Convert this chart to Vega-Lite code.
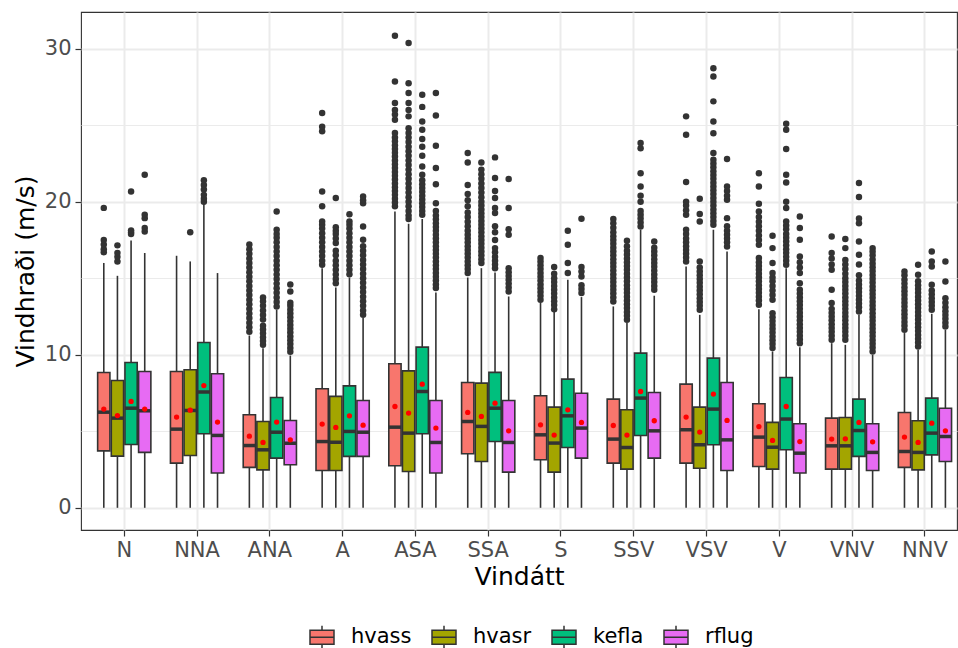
{
  "$schema": "https://vega.github.io/schema/vega-lite/v6.json",
  "width": 876,
  "height": 518,
  "autosize": {"type": "none"},
  "padding": {"left": 81, "top": 12, "right": 1, "bottom": 118},
  "background": "white",
  "config": {
    "font": "DejaVu Sans",
    "view": {"stroke": "#333333", "strokeWidth": 1.1},
    "axis": {
      "labelFont": "DejaVu Sans", "titleFont": "DejaVu Sans",
      "labelFontSize": 21, "labelColor": "#4D4D4D",
      "titleFontSize": 25, "titleColor": "#000000", "titleFontWeight": "normal",
      "tickColor": "#333333", "tickSize": 6, "tickWidth": 1.2,
      "domain": false, "grid": true, "gridColor": "#EBEBEB"
    },
    "legend": {"labelFont": "DejaVu Sans"}
  },
  "data": {"values": [
    {"d":"N","s":"hvass","lo":0,"q1":3.72,"med":6.25,"q3":8.84,"hi":16.0,"mean":6.45,"out":[16.7,16.9,17.2,17.5,19.6]},
    {"d":"N","s":"hvasr","lo":0,"q1":3.38,"med":5.86,"q3":8.32,"hi":15.16,"mean":6.03,"out":[16.1,16.4,16.65,17.15]},
    {"d":"N","s":"kefla","lo":0,"q1":4.14,"med":6.51,"q3":9.5,"hi":17.47,"mean":6.95,"out":[17.9,18.0,18.13,20.67]},
    {"d":"N","s":"rflug","lo":0,"q1":3.62,"med":6.34,"q3":8.91,"hi":16.65,"mean":6.45,"out":[18.06,18.28,18.93,19.15,21.76]},
    {"d":"NNA","s":"hvass","lo":0,"q1":2.92,"med":5.14,"q3":8.91,"hi":16.47,"mean":5.93,"out":[]},
    {"d":"NNA","s":"hvasr","lo":0,"q1":3.42,"med":6.36,"q3":9.02,"hi":16.1,"mean":6.38,"out":[18.0]},
    {"d":"NNA","s":"kefla","lo":0,"q1":4.84,"med":7.56,"q3":10.8,"hi":19.9,"mean":7.99,"out":[20.0,20.2,20.45,20.8,21.1,21.4]},
    {"d":"NNA","s":"rflug","lo":0,"q1":2.27,"med":4.73,"q3":8.76,"hi":15.34,"mean":5.6,"out":[]},
    {"d":"ANA","s":"hvass","lo":0,"q1":2.64,"med":4.07,"q3":6.08,"hi":11.26,"mean":4.68,"out":[11.5,11.8,12.1,12.4,12.7,13.0,13.3,13.6,13.9,14.2,14.5,14.8,15.1,15.4,15.7,16.0,16.3,16.6,16.9,17.2]},
    {"d":"ANA","s":"hvasr","lo":0,"q1":2.48,"med":3.79,"q3":5.64,"hi":10.43,"mean":4.27,"out":[10.65,10.9,11.15,11.4,11.65,11.9,12.3,12.6,12.9,13.2,13.5,13.75]},
    {"d":"ANA","s":"kefla","lo":0,"q1":3.25,"med":4.94,"q3":7.21,"hi":12.94,"mean":5.6,"out":[13.16,13.45,13.75,14.05,14.35,14.65,14.95,15.25,15.55,15.85,16.15,16.45,16.75,17.05,17.35,17.65,17.9,18.17,19.37]},
    {"d":"ANA","s":"rflug","lo":0,"q1":2.81,"med":4.22,"q3":5.71,"hi":9.95,"mean":4.44,"out":[10.2,10.45,10.7,10.95,11.2,11.45,11.7,11.95,12.2,12.45,12.7,12.95,13.2,13.4,14.14,14.6]},
    {"d":"A","s":"hvass","lo":0,"q1":2.44,"med":4.33,"q3":7.78,"hi":15.66,"mean":5.47,"out":[15.88,16.15,16.45,16.75,17.05,17.35,17.65,17.95,18.25,18.5,18.71,19.7,20.67,24.6,24.9,25.8]},
    {"d":"A","s":"hvasr","lo":0,"q1":2.44,"med":4.29,"q3":7.28,"hi":14.4,"mean":5.25,"out":[14.68,14.95,15.25,15.55,15.85,16.15,16.5,16.8,17.3,17.6,17.9,18.1,18.34,20.24]},
    {"d":"A","s":"kefla","lo":0,"q1":3.36,"med":4.99,"q3":7.97,"hi":15.05,"mean":6.01,"out":[15.27,15.55,15.85,16.15,16.45,16.75,17.05,17.35,17.65,17.95,18.25,18.5,18.71,19.19]},
    {"d":"A","s":"rflug","lo":0,"q1":3.36,"med":4.94,"q3":7.01,"hi":12.4,"mean":5.4,"out":[12.61,12.9,13.2,13.5,13.8,14.1,14.4,14.7,15.0,15.3,15.6,15.9,16.2,16.5,16.8,17.1,17.52,18.39,19.9,20.1,20.35]},
    {"d":"ASA","s":"hvass","lo":0,"q1":2.75,"med":5.27,"q3":9.41,"hi":19.37,"mean":6.62,"out":[19.7,19.95,20.2,20.45,20.7,20.95,21.2,21.45,21.7,21.95,22.2,22.45,22.7,22.95,23.2,23.45,23.7,23.95,24.2,24.5,25.36,25.7,26.0,26.45,27.86,30.85]},
    {"d":"ASA","s":"hvasr","lo":0,"q1":2.37,"med":4.88,"q3":8.95,"hi":18.56,"mean":6.19,"out":[18.87,19.1,19.4,19.7,20.0,20.3,20.6,20.9,21.2,21.5,21.8,22.1,22.4,22.7,23.0,23.3,23.6,23.9,24.2,24.5,24.8,25.58,26.0,26.45,27.1,27.75,30.37]},
    {"d":"ASA","s":"kefla","lo":0,"q1":4.84,"med":7.6,"q3":10.5,"hi":18.87,"mean":8.08,"out":[19.15,19.4,19.65,19.9,20.15,20.4,20.65,20.9,21.15,21.4,21.76,22.3,23.0,23.6,24.1,24.7,25.25,26.2,27.0]},
    {"d":"ASA","s":"rflug","lo":0,"q1":2.27,"med":4.27,"q3":7.01,"hi":14.07,"mean":5.21,"out":[14.36,14.6,14.85,15.1,15.35,15.6,15.85,16.1,16.35,16.6,16.85,17.1,17.35,17.6,17.85,18.1,18.35,18.6,18.85,19.1,19.4,19.9,21.15,22.2,23.66,25.64,27.1]},
    {"d":"SSA","s":"hvass","lo":0,"q1":3.53,"med":5.64,"q3":8.19,"hi":15.05,"mean":6.23,"out":[15.34,15.6,15.85,16.1,16.35,16.6,16.85,17.1,17.35,17.6,17.85,18.1,18.4,18.7,19.0,19.3,19.7,20.1,20.5,21.1,22.57,23.18]},
    {"d":"SSA","s":"hvasr","lo":0,"q1":3.03,"med":5.32,"q3":8.15,"hi":15.66,"mean":5.97,"out":[16.0,16.25,16.5,16.75,17.0,17.25,17.5,17.75,18.0,18.25,18.5,18.75,19.0,19.25,19.5,19.75,20.0,20.3,20.6,20.9,21.2,21.5,21.8,22.1,22.57]},
    {"d":"SSA","s":"kefla","lo":0,"q1":4.33,"med":6.51,"q3":8.85,"hi":15.38,"mean":6.84,"out":[15.66,15.9,16.15,16.4,16.7,16.97,17.5,18.0,18.4,19.26,19.6,20.24,20.7,21.55,22.9]},
    {"d":"SSA","s":"rflug","lo":0,"q1":2.33,"med":4.27,"q3":7.01,"hi":13.81,"mean":5.03,"out":[14.14,14.4,14.65,14.9,15.15,15.4,15.66,17.84,18.2,19.59,21.48]},
    {"d":"S","s":"hvass","lo":0,"q1":3.14,"med":4.77,"q3":7.32,"hi":13.42,"mean":5.42,"out":[13.6,13.85,14.1,14.35,14.6,14.85,15.1,15.35,15.6,15.85,16.1,16.32]},
    {"d":"S","s":"hvasr","lo":0,"q1":2.33,"med":4.23,"q3":6.58,"hi":12.83,"mean":4.75,"out":[12.98,13.25,13.5,13.75,14.0,14.25,14.5,14.75,15.0,15.3,15.73]},
    {"d":"S","s":"kefla","lo":0,"q1":3.94,"med":6.01,"q3":8.41,"hi":14.9,"mean":6.4,"out":[15.34,16.0,17.19,18.1]},
    {"d":"S","s":"rflug","lo":0,"q1":3.25,"med":5.21,"q3":7.49,"hi":13.77,"mean":5.58,"out":[14.03,14.3,14.55,15.12,15.45,15.73,18.89]},
    {"d":"SSV","s":"hvass","lo":0,"q1":2.92,"med":4.49,"q3":7.1,"hi":13.16,"mean":5.38,"out":[13.48,13.75,14.0,14.25,14.5,14.75,15.0,15.25,15.5,15.75,16.0,16.25,16.5,16.75,17.0,17.25,17.5,17.75,18.0,18.3,18.6,18.87]},
    {"d":"SSV","s":"hvasr","lo":0,"q1":2.53,"med":3.94,"q3":6.41,"hi":12.07,"mean":4.75,"out":[12.29,12.55,12.8,13.05,13.3,13.55,13.8,14.05,14.3,14.55,14.8,15.05,15.3,15.55,15.8,16.05,16.3,16.55,16.8,17.1,17.45]},
    {"d":"SSV","s":"kefla","lo":0,"q1":4.73,"med":7.17,"q3":10.11,"hi":18.17,"mean":7.6,"out":[18.39,18.65,18.9,19.15,19.4,20.0,20.4,21.0,21.87,23.5,23.84]},
    {"d":"SSV","s":"rflug","lo":0,"q1":3.25,"med":5.03,"q3":7.54,"hi":13.86,"mean":5.69,"out":[14.25,14.5,14.75,15.0,15.25,15.5,15.75,16.0,16.25,16.5,16.75,17.0,17.4]},
    {"d":"VSV","s":"hvass","lo":0,"q1":2.92,"med":5.1,"q3":8.08,"hi":15.77,"mean":5.93,"out":[16.1,16.35,16.6,16.85,17.1,17.35,17.6,17.9,18.17,19.15,19.45,19.75,20.0,21.29,24.38,25.58]},
    {"d":"VSV","s":"hvasr","lo":0,"q1":2.59,"med":4.12,"q3":6.58,"hi":12.61,"mean":4.95,"out":[12.94,13.2,13.45,13.7,13.95,14.2,14.45,14.7,14.95,15.2,15.45,15.7,16.1,18.71,19.2,20.2]},
    {"d":"VSV","s":"kefla","lo":0,"q1":4.12,"med":6.45,"q3":9.78,"hi":18.17,"mean":7.43,"out":[18.5,18.75,19.0,19.25,19.5,19.75,20.0,20.25,20.5,20.75,21.0,21.25,21.5,21.75,22.0,22.25,22.5,22.75,23.18,24.48,25.25,26.56,28.19,28.73]},
    {"d":"VSV","s":"rflug","lo":0,"q1":2.44,"med":4.44,"q3":8.19,"hi":16.75,"mean":5.71,"out":[17.08,17.35,17.6,17.85,18.1,18.4,18.93,20.13,20.4,20.7,21.0,22.79]},
    {"d":"V","s":"hvass","lo":0,"q1":2.7,"med":4.62,"q3":6.8,"hi":12.98,"mean":5.31,"out":[13.27,13.55,13.8,14.05,14.3,14.55,14.8,15.05,15.3,15.55,15.8,16.05,16.32,17.19,17.5,17.8,18.1,18.4,18.7,19.0,19.37,19.87,21.0,21.87]},
    {"d":"V","s":"hvasr","lo":0,"q1":2.53,"med":3.96,"q3":5.58,"hi":10.22,"mean":4.4,"out":[10.44,10.7,10.95,11.2,11.45,11.7,11.95,12.2,12.45,12.72,13.6,13.9,14.2,14.5,14.8,15.05,15.34,16.0,16.97,17.78]},
    {"d":"V","s":"kefla","lo":0,"q1":3.79,"med":5.8,"q3":8.52,"hi":15.66,"mean":6.62,"out":[15.88,16.15,16.4,16.65,16.9,17.15,17.4,17.65,17.9,18.2,18.45,18.71,19.59,20.0,21.26,21.76,23.44,24.7,25.1]},
    {"d":"V","s":"rflug","lo":0,"q1":2.27,"med":3.57,"q3":5.49,"hi":10.5,"mean":4.33,"out":[10.76,11.0,11.25,11.5,11.75,12.0,12.25,12.5,12.75,13.0,13.25,13.5,13.75,14.0,14.25,14.68,15.34,15.7,16.05,16.43,17.52,18.28,19.04]},
    {"d":"VNV","s":"hvass","lo":0,"q1":2.53,"med":4.05,"q3":5.86,"hi":10.76,"mean":4.49,"out":[10.98,11.25,11.5,11.75,12.0,12.25,12.5,12.75,13.0,13.38,14.25,15.56,15.9,16.3,16.65,17.73]},
    {"d":"VNV","s":"hvasr","lo":0,"q1":2.53,"med":4.05,"q3":5.9,"hi":10.65,"mean":4.51,"out":[10.98,11.25,11.5,11.75,12.0,12.25,12.5,12.75,13.0,13.25,13.5,13.75,14.0,14.25,14.5,14.75,15.0,15.3,15.6,15.9,16.2,16.97,17.56]},
    {"d":"VNV","s":"kefla","lo":0,"q1":3.36,"med":5.05,"q3":7.1,"hi":12.61,"mean":5.58,"out":[12.83,13.1,13.35,13.6,13.85,14.1,14.35,14.6,14.85,15.2,15.9,16.54,17.4,18.6,18.9,20.31,21.22]},
    {"d":"VNV","s":"rflug","lo":0,"q1":2.44,"med":3.62,"q3":5.49,"hi":10.0,"mean":4.31,"out":[10.22,10.47,10.72,10.97,11.22,11.47,11.72,11.97,12.22,12.47,12.72,12.97,13.22,13.47,13.72,13.97,14.22,14.47,14.72,14.97,15.22,15.47,15.72,15.97,16.22,16.5,16.75,16.97]},
    {"d":"NNV","s":"hvass","lo":0,"q1":2.64,"med":3.68,"q3":6.23,"hi":11.42,"mean":4.62,"out":[11.63,11.9,12.15,12.4,12.65,12.9,13.15,13.4,13.65,13.9,14.15,14.4,14.65,14.9,15.2,15.45]},
    {"d":"NNV","s":"hvasr","lo":0,"q1":2.48,"med":3.62,"q3":5.69,"hi":10.33,"mean":4.27,"out":[10.54,10.8,11.05,11.3,11.55,11.8,12.05,12.3,12.55,12.8,13.05,13.3,13.55,13.8,14.05,14.3,14.55,14.8,15.23,15.88]},
    {"d":"NNV","s":"kefla","lo":0,"q1":3.46,"med":4.88,"q3":7.17,"hi":12.68,"mean":5.53,"out":[12.94,13.2,13.45,13.7,13.95,14.2,14.58,15.77,16.1,16.75]},
    {"d":"NNV","s":"rflug","lo":0,"q1":3.03,"med":4.66,"q3":6.51,"hi":11.63,"mean":5.03,"out":[11.85,12.1,12.35,12.6,12.85,13.1,13.4,13.7,14.79,16.1]}
  ]},
  "encoding": {
    "x": {
      "field": "d", "type": "nominal",
      "sort": ["N","NNA","ANA","A","ASA","SSA","S","SSV","VSV","V","VNV","NNV"],
      "scale": {"paddingInner": 0.25, "paddingOuter": 0.1424, "align": 0.77},
      "axis": {"title": "Vindátt", "labelAngle": 0, "bandPosition": 0.5, "gridWidth": 2, "labelPadding": 3, "titlePadding": 4}
    },
    "xOffset": {
      "field": "s", "type": "nominal",
      "sort": ["hvass","hvasr","kefla","rflug"],
      "scale": {"paddingInner": 0.1, "paddingOuter": 0.05}
    }
  },
  "layer": [
    {
      "mark": {"type": "rule", "color": "#333333", "strokeWidth": 1.6},
      "encoding": {
        "y": {
          "field": "lo", "type": "quantitative",
          "scale": {"domain": [-1.45, 32.4], "nice": false, "zero": false},
          "axis": {
            "title": "Vindhraði (m/s)",
            "values": [0, 5, 10, 15, 20, 25, 30],
            "labelExpr": "datum.value % 10 === 0 ? datum.label : ''",
            "gridWidth": {"condition": {"test": "datum.value % 10 === 0", "value": 2}, "value": 1},
            "tickOpacity": {"condition": {"test": "datum.value % 10 === 0", "value": 1}, "value": 0},
            "labelPadding": 4, "titlePadding": 6
          }
        },
        "y2": {"field": "hi"}
      }
    },
    {
      "mark": {"type": "bar", "stroke": "#333333", "strokeWidth": 1.6, "opacity": 1},
      "encoding": {
        "y": {"field": "q1", "type": "quantitative"},
        "y2": {"field": "q3"},
        "color": {
          "field": "s", "type": "nominal",
          "scale": {"domain": ["hvass","hvasr","kefla","rflug"], "range": ["#F8766D","#A3A500","#00BF7D","#E76BF3"]},
          "legend": {
            "title": null, "orient": "none", "direction": "horizontal",
            "legendX": 228, "legendY": 612,
            "symbolType": "M-1,-0.58L1,-0.58L1,0.58L-1,0.58Z M-1,0L1,0 M0,-0.58L0,-0.96 M0,0.58L0,0.96",
            "symbolSize": 576, "symbolStrokeColor": "#333333", "symbolStrokeWidth": 1.5,
            "symbolOpacity": 1, "labelFontSize": 21, "labelColor": "#000000",
            "labelOffset": 16, "columnPadding": 17, "labelBaseline": "middle"
          }
        }
      }
    },
    {
      "mark": {"type": "tick", "color": "#333333", "thickness": 3.5, "size": 12.3, "opacity": 1},
      "encoding": {"y": {"field": "med", "type": "quantitative"}}
    },
    {
      "transform": [{"flatten": ["out"]}],
      "mark": {"type": "point", "filled": true, "color": "#333333", "size": 42, "opacity": 1},
      "encoding": {"y": {"field": "out", "type": "quantitative"}}
    },
    {
      "mark": {"type": "point", "filled": true, "color": "#FF0000", "size": 28, "opacity": 1},
      "encoding": {"y": {"field": "mean", "type": "quantitative"}}
    }
  ]
}
